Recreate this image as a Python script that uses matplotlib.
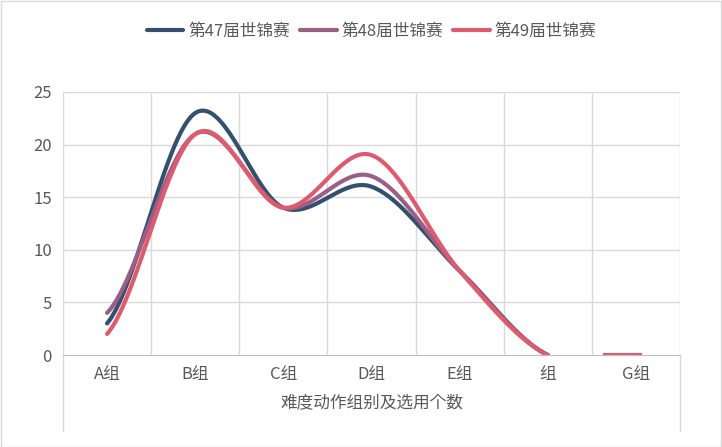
import numpy as np
import matplotlib.pyplot as plt

plt.rcParams['font.family'] = ['Noto Sans CJK SC', 'Noto Sans CJK JP', 'Noto Sans CJK TC',
                               'Noto Sans CJK KR', 'DejaVu Sans']

categories = ['A组', 'B组', 'C组', 'D组', 'E组', '组', 'G组']
s47 = [3, 23, 14, 16, 8, 0]
s48 = [4, 21, 14, 17, 8, 0]
s49 = [2, 21, 14, 19, 8, 0]
g49 = 0
names = ['第47届世锦赛', '第48届世锦赛', '第49届世锦赛']
colors = ['#34506f', '#9a5f85', '#e05a6e']


def smooth(y, n=40):
    # Catmull-Rom spline, similar to Excel smoothed lines
    y = np.asarray(y, float)
    p = np.concatenate([[y[0]], y, [y[-1]]])
    xs, ys = [], []
    for i in range(len(y) - 1):
        t = np.linspace(0, 1, n)
        p0, p1, p2, p3 = p[i], p[i + 1], p[i + 2], p[i + 3]
        v = 0.5 * (2 * p1 + (-p0 + p2) * t + (2 * p0 - 5 * p1 + 4 * p2 - p3) * t ** 2
                   + (-p0 + 3 * p1 - 3 * p2 + p3) * t ** 3)
        xs.extend(i + t)
        ys.extend(v)
    return np.array(xs), np.array(ys)


fig = plt.figure(figsize=(7.22, 4.47), dpi=100)
ax = fig.add_axes([63 / 722, 92 / 447, 617 / 722, 263 / 447])

for s, c, nm in zip([s47, s48, s49], colors, names):
    x, y = smooth(s)
    ax.plot(x, y, color=c, lw=3, label=nm, solid_capstyle='round')
ax.plot([5.65, 6.05], [g49, g49], color=colors[2], lw=3)

ax.set_xlim(-0.5, 6.5)
ax.set_ylim(0, 25)
ax.set_yticks(range(0, 26, 5))
ax.set_xticks(range(7))
ax.set_xticklabels(categories)
ax.tick_params(length=0, labelsize=12, colors='#595959', pad=8)
for b in np.arange(-0.5, 7, 1):
    ax.axvline(b, color='#d9d9d9', lw=1, zorder=0)
for yv in range(5, 26, 5):
    ax.axhline(yv, color='#d9d9d9', lw=1, zorder=0)
for side in ['top', 'right', 'left']:
    ax.spines[side].set_visible(False)
ax.spines['bottom'].set_color('#bfbfbf')
for xb in [-0.5, 6.5]:
    ax.plot([xb, xb], [0, -7.2], color='#d9d9d9', lw=1, clip_on=False)
ax.set_xlabel('难度动作组别及选用个数', fontsize=12, color='#595959', labelpad=8)

ax.legend(loc='lower center', bbox_to_anchor=(0.5, 1.14), ncol=3, frameon=False,
          fontsize=12, handlelength=2.2, columnspacing=0.6, handletextpad=0.3,
          labelcolor='#595959')

fig.patches.append(plt.Rectangle((0.001, 0.001), 0.997, 0.997, transform=fig.transFigure,
                                 fill=False, edgecolor='#d9d9d9', lw=1))
fig.savefig('out.png', dpi=100)
